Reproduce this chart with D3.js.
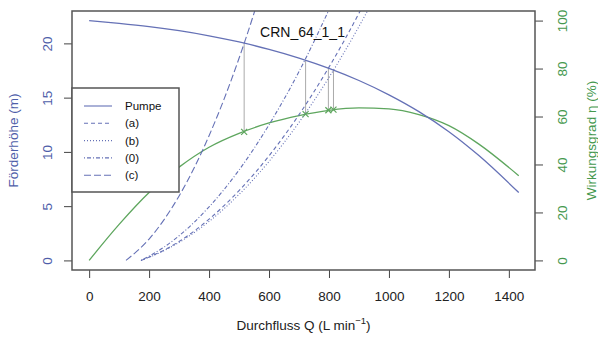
<!DOCTYPE html>
<html>
<head>
<meta charset="utf-8">
<script src="https://cdn.jsdelivr.net/npm/d3@7"></script>
<style>
  body { margin: 0; background: #fff; }
  svg { font-family: "Liberation Sans", Arial, sans-serif; }
</style>
</head>
<body>
<svg id="chart" width="598" height="338"></svg>
<script>
// Pump curve and efficiency
const flowQ = [0, 100, 200, 300, 400, 500, 600, 700, 800, 900, 1000, 1100, 1200, 1300, 1433];
const pumpHead = [22.1, 21.85, 21.55, 21.17, 20.7, 20.13, 19.45, 18.65, 17.7, 16.58, 15.26, 13.71, 11.86, 9.66, 6.25];
const efficiency = [0, 15, 28.3, 38.9, 47.2, 53.0, 57.3, 60.4, 62.6, 63.6, 63.2, 60.8, 56.2, 48.5, 35.3];

// System curves (a), (b), (0), (c)
const sysNames = ['(a)', '(b)', '(0)', '(c)'];
const sysQ = [
  [173, 250, 300, 400, 500, 600, 700, 800, 900, 930],
  [173, 250, 300, 400, 500, 600, 700, 800, 900, 950],
  [173, 250, 300, 400, 500, 600, 700, 800, 820],
  [123, 200, 250, 300, 350, 400, 450, 500, 550, 570],
];
const sysHead = [
  [0, 0.95, 1.75, 3.8, 6.43, 9.64, 13.43, 17.81, 22.78, 24.4],
  [0, 0.9, 1.66, 3.59, 6.08, 9.12, 12.72, 16.86, 21.56, 24.1],
  [0, 1.23, 2.27, 4.93, 8.33, 12.5, 17.4, 23.1, 24.3],
  [0, 1.97, 3.76, 5.94, 8.51, 11.49, 14.86, 18.63, 22.79, 24.6],
];
const sysDash = ['4,3', '1,2', '1,2,4,2', '7,3'];

// Operating points (intersection with pump curve)
const opQ = [798, 815, 722, 517];
const opHead = [17.72, 17.55, 18.46, 20.0];
const opEff = [62.6, 62.9, 61.0, 53.6];

const xTicks = [0, 200, 400, 600, 800, 1000, 1200, 1400];
const headTicks = [0, 5, 10, 15, 20];
const effTicks = [0, 20, 40, 60, 80, 100];

const blue = '#6571b6';
const blueText = '#4e5ea9';
const green = '#5ea65e';
const greenText = '#45984e';

const svg = d3.select('#chart');
const pLeft = 72, pRight = 535, pTop = 11, pBottom = 270;

const x = d3.scaleLinear().domain([-57.2, 1487.2]).range([pLeft, pRight]);
const yH = d3.scaleLinear().domain([-0.884, 22.984]).range([pBottom, pTop]);
const yE = d3.scaleLinear().domain([-4, 104]).range([pBottom, pTop]);

svg.append('clipPath').attr('id', 'plotClip')
  .append('rect').attr('x', pLeft).attr('y', pTop)
  .attr('width', pRight - pLeft).attr('height', pBottom - pTop);

const plot = svg.append('g').attr('clip-path', 'url(#plotClip)');

const curve = d3.curveMonotoneX;

// drop lines
plot.selectAll('.drop').data(opQ).join('line')
  .attr('x1', (d) => x(d)).attr('x2', (d) => x(d))
  .attr('y1', (d, i) => yH(opHead[i]))
  .attr('y2', (d, i) => yE(opEff[i]))
  .attr('stroke', '#aaaaaa').attr('stroke-width', 1);

// efficiency
plot.append('path')
  .datum(flowQ.map((q, i) => [q, efficiency[i]]))
  .attr('d', d3.line().x((d) => x(d[0])).y((d) => yE(d[1])).curve(curve))
  .attr('fill', 'none').attr('stroke', green).attr('stroke-width', 1.3);

// pump
plot.append('path')
  .datum(flowQ.map((q, i) => [q, pumpHead[i]]))
  .attr('d', d3.line().x((d) => x(d[0])).y((d) => yH(d[1])).curve(curve))
  .attr('fill', 'none').attr('stroke', blue).attr('stroke-width', 1.3);

// system curves
sysQ.forEach((qs, k) => {
  plot.append('path')
    .datum(qs.map((q, i) => [q, sysHead[k][i]]))
    .attr('d', d3.line().x((d) => x(d[0])).y((d) => yH(d[1])).curve(curve))
    .attr('fill', 'none').attr('stroke', blue).attr('stroke-width', 1.1)
    .attr('stroke-dasharray', sysDash[k]);
});

// cross markers
opQ.forEach((q, i) => {
  const cx = x(q), cy = yE(opEff[i]), s = 3;
  plot.append('path')
    .attr('d', `M${cx - s},${cy - s}L${cx + s},${cy + s}M${cx - s},${cy + s}L${cx + s},${cy - s}`)
    .attr('stroke', green).attr('stroke-width', 1.2);
});

// axes
const fs = '13.5px';
const gx = svg.append('g').attr('transform', `translate(0,${pBottom})`)
  .call(d3.axisBottom(x).tickValues(xTicks).tickSize(8).tickFormat(d3.format('d')));
gx.select('.domain').remove();
gx.selectAll('line').attr('stroke', '#444');
gx.selectAll('text').attr('y', 31).attr('dy', 0).attr('font-size', fs).attr('fill', '#222');

const gl = svg.append('g').attr('transform', `translate(${pLeft},0)`)
  .call(d3.axisLeft(yH).tickValues(headTicks).tickSize(8));
gl.select('.domain').remove();
gl.selectAll('line').attr('stroke', '#444');
gl.selectAll('text').attr('x', 0).attr('y', -20.5).attr('dy', 0)
  .attr('transform', 'rotate(-90)').attr('text-anchor', 'middle')
  .attr('font-size', fs).attr('fill', blueText);

const gr = svg.append('g').attr('transform', `translate(${pRight},0)`)
  .call(d3.axisRight(yE).tickValues(effTicks).tickSize(8));
gr.select('.domain').remove();
gr.selectAll('line').attr('stroke', '#444');
gr.selectAll('text').attr('x', 0).attr('y', 31.5).attr('dy', 0)
  .attr('transform', 'rotate(-90)').attr('text-anchor', 'middle')
  .attr('font-size', fs).attr('fill', greenText);

// box
svg.append('rect').attr('x', pLeft).attr('y', pTop)
  .attr('width', pRight - pLeft).attr('height', pBottom - pTop)
  .attr('fill', 'none').attr('stroke', '#555').attr('stroke-width', 1.5);

// titles
const mid = (pTop + pBottom) / 2;
svg.append('text')
  .attr('transform', `translate(18,${mid}) rotate(-90)`)
  .attr('text-anchor', 'middle').attr('font-size', fs).attr('fill', blueText)
  .text('Förderhöhe (m)');

svg.append('text')
  .attr('transform', `translate(596,${mid}) rotate(-90)`)
  .attr('text-anchor', 'middle').attr('font-size', fs).attr('fill', greenText)
  .text('Wirkungsgrad η (%)');

const xt = svg.append('text')
  .attr('x', (pLeft + pRight) / 2).attr('y', 330)
  .attr('text-anchor', 'middle').attr('font-size', fs).attr('fill', '#222');
xt.append('tspan').text('Durchfluss Q (L min');
xt.append('tspan').attr('dy', -6).attr('font-size', '9.5px').text('−1');
xt.append('tspan').attr('dy', 6).text(')');

svg.append('text')
  .attr('x', 302.5).attr('y', 37)
  .attr('text-anchor', 'middle').attr('font-size', '14px').attr('fill', '#111')
  .text('CRN_64_1_1');

// legend
const legNames = ['Pumpe'].concat(sysNames);
const legDash = [null].concat(sysDash);
const leg = svg.append('g');
leg.append('rect').attr('x', 72).attr('y', 88).attr('width', 107).attr('height', 104)
  .attr('fill', '#fff').attr('stroke', '#555').attr('stroke-width', 1.5);
legNames.forEach((name, i) => {
  const ly = 106 + i * 17.3;
  leg.append('line').attr('x1', 84).attr('x2', 112).attr('y1', ly).attr('y2', ly)
    .attr('stroke', blue).attr('stroke-width', 1.1)
    .attr('stroke-dasharray', legDash[i]);
  leg.append('text').attr('x', 125).attr('y', ly + 4)
    .attr('font-size', '11.5px').attr('fill', '#111').text(name);
});
</script>
</body>
</html>
